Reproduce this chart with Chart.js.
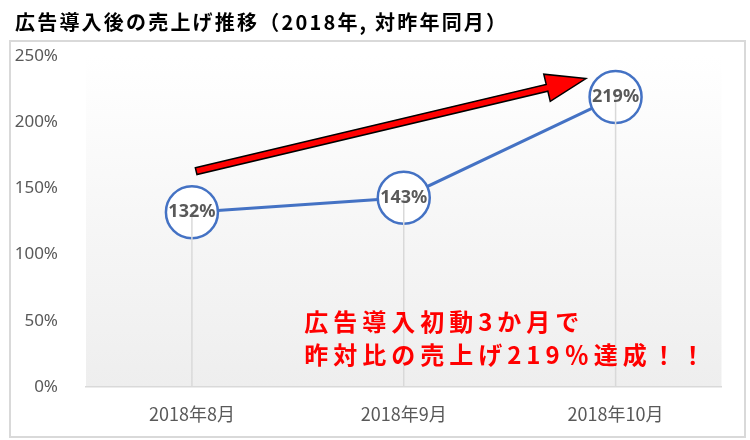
<!DOCTYPE html>
<html><head><meta charset="utf-8">
<script src="https://cdn.jsdelivr.net/npm/chart.js@4"></script>
<style>html,body{margin:0;padding:0;background:#fff}#wrap{width:750px;height:440px}</style>
</head><body><div id="wrap"><canvas id="c" width="750" height="440"></canvas></div>
<script>
const TITLE = '広告導入後の売上げ推移（2018年, 対昨年同月）';
const categories = ['2018年8月', '2018年9月', '2018年10月'];
const salesRatio = [132, 143, 219];
const yTicks = [0, 50, 100, 150, 200, 250];
const noteLines = ['広告導入初動3か月で', '昨対比の売上げ219％達成！！'];

const overlay = {
  id: 'overlay',
  beforeDraw(chart) {
    const { ctx, chartArea: a } = chart;
    ctx.save();
    ctx.strokeStyle = '#d9d9d9'; ctx.lineWidth = 2;
    ctx.strokeRect(10, 41, 735, 396);
    const g = ctx.createLinearGradient(0, a.top, 0, a.bottom);
    g.addColorStop(0, '#ffffff'); g.addColorStop(1, '#eeeeee');
    ctx.fillStyle = g; ctx.fillRect(a.left, a.top, a.right - a.left, a.bottom - a.top);
    ctx.fillStyle = '#000'; ctx.font = 'bold 20px "Noto Sans CJK JP"';
    ctx.letterSpacing = '2.2px';
    ctx.textBaseline = 'middle'; ctx.textAlign = 'left';
    ctx.fillText(TITLE, 15, 22);
    ctx.restore();
  },
  afterDatasetsDraw(chart) {
    const { ctx, chartArea: a } = chart;
    const xs = chart.scales.x, ys = chart.scales.y;
    const meta = chart.getDatasetMeta(0);
    ctx.save();
    // drop lines
    ctx.strokeStyle = '#d9d9d9'; ctx.lineWidth = 1.5;
    meta.data.forEach(pt => {
      ctx.beginPath(); ctx.moveTo(pt.x, pt.y); ctx.lineTo(pt.x, a.bottom); ctx.stroke();
    });
    // data labels
    ctx.fillStyle = '#595959'; ctx.font = 'bold 18px "Noto Sans"';
    ctx.textAlign = 'center'; ctx.textBaseline = 'middle';
    meta.data.forEach((pt, i) => ctx.fillText(salesRatio[i] + '%', pt.x, pt.y));
    // arrow
    const x1 = xs.getPixelForValue(0.02), y1 = ys.getPixelForValue(163);
    const x2 = xs.getPixelForValue(1.86), y2 = ys.getPixelForValue(233);
    const ang = Math.atan2(y2 - y1, x2 - x1), len = Math.hypot(x2 - x1, y2 - y1);
    const hw = 3.5, hl = 40, hh = 14;
    ctx.translate(x1, y1); ctx.rotate(ang);
    ctx.beginPath();
    ctx.moveTo(0, -hw); ctx.lineTo(len - hl, -hw); ctx.lineTo(len - hl, -hh);
    ctx.lineTo(len, 0); ctx.lineTo(len - hl, hh); ctx.lineTo(len - hl, hw); ctx.lineTo(0, hw);
    ctx.closePath();
    ctx.fillStyle = '#ff0000'; ctx.fill();
    ctx.strokeStyle = '#000'; ctx.lineWidth = 1.5; ctx.lineJoin = 'miter'; ctx.stroke();
    ctx.setTransform(1, 0, 0, 1, 0, 0);
    // note text
    ctx.fillStyle = '#ff0000'; ctx.font = 'bold 24px "Noto Sans CJK JP"';
    ctx.letterSpacing = '5px'; ctx.textAlign = 'left'; ctx.textBaseline = 'middle';
    const nx = xs.getPixelForValue(0.53);
    ctx.fillText(noteLines[0], nx, ys.getPixelForValue(49));
    ctx.fillText(noteLines[1], nx, ys.getPixelForValue(24));
    ctx.restore();
  }
};

new Chart(document.getElementById('c'), {
  type: 'line',
  data: {
    labels: categories,
    datasets: [{
      data: salesRatio,
      borderColor: '#4472C4', borderWidth: 3,
      pointRadius: 26, pointBackgroundColor: '#ffffff',
      pointBorderColor: '#4472C4', pointBorderWidth: 2.5,
      tension: 0, clip: false
    }]
  },
  options: {
    responsive: false, animation: false, events: [],
    layout: { padding: { top: 56, right: 16, left: 0, bottom: 0 } },
    plugins: { legend: { display: false }, tooltip: { enabled: false }, title: { display: false } },
    scales: {
      x: {
        offset: true,
        grid: { display: false, offset: true },
        border: { display: true, color: '#d9d9d9', width: 1.5 },
        ticks: { padding: 8, color: '#595959', font: { family: '"Noto Sans CJK JP"', size: 18 } },
        afterFit(s) { s.height = 53; }
      },
      y: {
        min: 0, max: 250,
        afterBuildTicks(s) { s.ticks = yTicks.map(v => ({ value: v })); },
        grid: { display: false },
        border: { display: false },
        ticks: { padding: 20, color: '#595959', font: { family: '"Noto Sans", "Noto Sans CJK JP"', size: 17 }, callback: v => v + '%' },
        afterFit(s) { s.width = 86; }
      }
    }
  },
  plugins: [overlay]
});
</script>
</body></html>
